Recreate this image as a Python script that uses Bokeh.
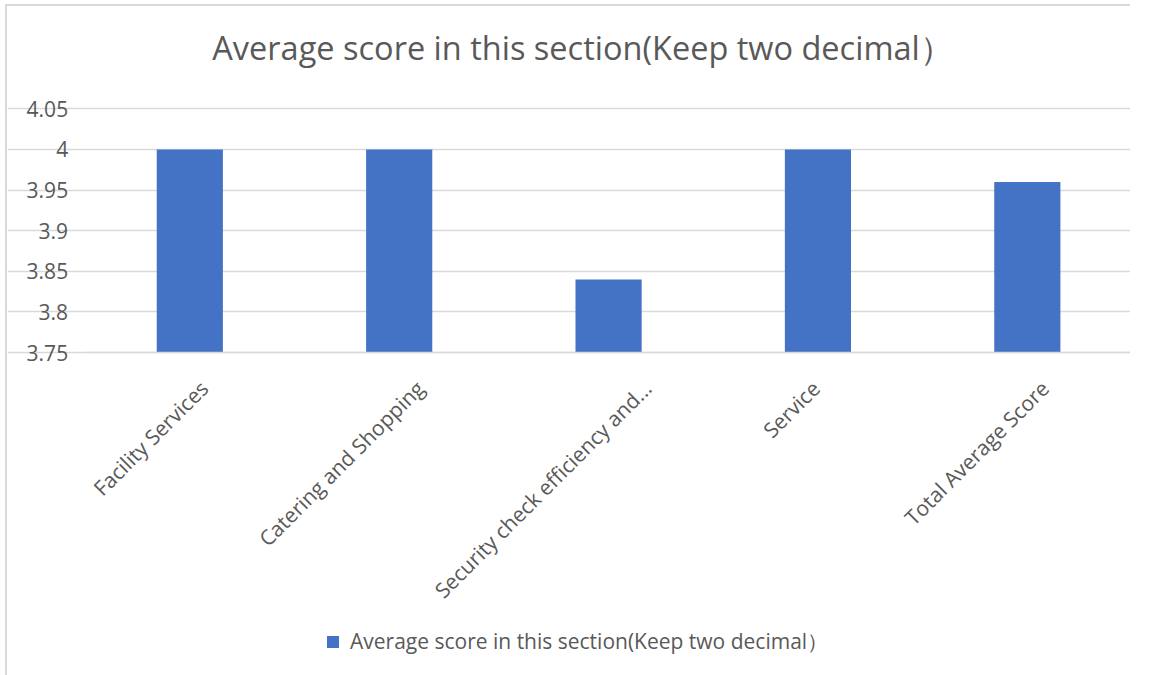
from bokeh.plotting import figure
from bokeh.models import (Range1d, FixedTicker, Legend, LegendItem, ColumnDataSource,
                          LinearAxis, Grid, Label)
from bokeh.embed import file_html
from bokeh.resources import INLINE
import math

categories = ["Facility Services", "Catering and Shopping", "Security check efficiency and...", "Service", "Total Average Score"]
values = [4.00, 4.00, 3.84, 4.00, 3.96]
tick_values = [3.75, 3.80, 3.85, 3.90, 3.95, 4.00, 4.05]
tick_labels = ["3.75", "3.8", "3.85", "3.9", "3.95", "4", "4.05"]
series_name = "Average score in this section(Keep two decimal\uff09"
title_text = "Average score in this section(Keep two decimal\uff09"

TEXT = "#595959"
GRID = "#d9d9d9"
BAR = "#4472C4"
FONT = "Open Sans"

# page layout (pixels)
MX, MY, BORDER = 5, 4, 2       # element margin and chart border width
OX, OY = MX + BORDER, MY + BORDER   # canvas origin on the page
RIGHT_EDGE = 1130              # right end of the plot area
CW, CH = RIGHT_EDGE - OX, 675 - OY  # canvas size
FIRST_CENTER, STEP = 189, 209  # first category centre, category pitch
Y_TOP_PX, Y_BOT_PX = 108, 351  # pixel rows of the axis ends
y_lo, y_hi = tick_values[0], tick_values[-1]
px_per_y = (Y_BOT_PX - Y_TOP_PX) / (y_hi - y_lo)

x_start = -(FIRST_CENTER - OX) / STEP
x_end = x_start + CW / STEP
y_end = y_hi + (Y_TOP_PX - OY) / px_per_y
y_start = y_lo - (CH - (Y_BOT_PX - OY)) / px_per_y

n = len(categories)
xpos = list(range(n))
# rotated labels: longer labels sit a little further right (as in the source chart)
label_ticks = [i + (1.64 * len(c) - 13.5) / STEP for i, c in zip(xpos, categories)]

p = figure(x_range=Range1d(x_start, x_end), y_range=Range1d(y_start, y_end),
           width=CW + BORDER, height=CH + BORDER,
           output_backend="svg", toolbar_location=None,
           x_axis_location=None, y_axis_location=None,
           min_border=0, min_border_left=0, min_border_right=0,
           min_border_top=0, min_border_bottom=0)
p.styles = {"margin-left": f"{MX}px", "margin-top": f"{MY}px",
            "border-left": f"{BORDER}px solid #d9d9d9", "border-top": f"{BORDER}px solid #d9d9d9"}
p.outline_line_color = None
p.background_fill_color = "white"
p.border_fill_color = "white"
for g in p.grid:
    g.visible = False

ygrid = Grid(dimension=1, ticker=FixedTicker(ticks=tick_values), bounds=(-0.5, n - 0.5),
             grid_line_color=GRID, grid_line_width=1.5)
p.add_layout(ygrid)

src = ColumnDataSource(dict(x=xpos, val=values, cat=categories))
r = p.vbar(x="x", top="val", bottom=y_lo, width=0.316, source=src,
           fill_color=BAR, line_color=None)

yaxis = LinearAxis(fixed_location=-0.5, ticker=FixedTicker(ticks=tick_values),
                   major_label_overrides={v: s for v, s in zip(tick_values, tick_labels)},
                   axis_line_color=None, major_tick_line_color=None, minor_tick_line_color=None,
                   major_label_text_font=FONT, major_label_text_font_size="21px",
                   major_label_text_color=TEXT, major_label_standoff=11)
p.add_layout(yaxis, "left")

xaxis = LinearAxis(fixed_location=y_lo, ticker=FixedTicker(ticks=label_ticks),
                   major_label_overrides={t: c for t, c in zip(label_ticks, categories)},
                   bounds=(-0.5, n - 0.5),
                   axis_line_color=GRID, axis_line_width=1.5,
                   major_tick_line_color=None, minor_tick_line_color=None,
                   major_label_orientation=math.pi / 4,
                   major_label_text_font=FONT, major_label_text_font_size="21px",
                   major_label_text_color=TEXT, major_label_standoff=26)
p.add_layout(xaxis, "below")

title_x = x_start + (581 - OX) / STEP
title_y = y_end - (47 - OY) / px_per_y
p.add_layout(Label(x=title_x, y=title_y, text=title_text, text_align="center",
                   text_baseline="middle", text_font=FONT, text_font_size="32.5px",
                   text_color=TEXT))

legend = Legend(items=[LegendItem(label=series_name, renderers=[r])],
                location=(325 - OX, CH - (654 - OY)), orientation="horizontal",
                glyph_width=15, glyph_height=15, label_height=16,
                label_standoff=10, padding=0, margin=0, spacing=0,
                border_line_color=None, background_fill_alpha=0,
                label_text_font=FONT, label_text_font_size="21px",
                label_text_color=TEXT)
p.add_layout(legend, "center")

open("out.html", "w").write(file_html(p, INLINE))
